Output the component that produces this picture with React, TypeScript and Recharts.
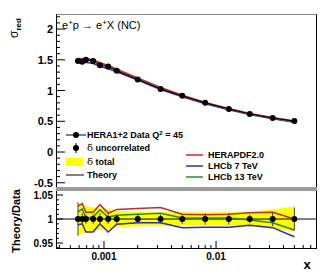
import React from "react";
import { ComposedChart, Line, Area, XAxis, YAxis, ErrorBar, ReferenceLine } from "recharts";

// HERA1+2 NC e+p, Q^2 = 45
const xValues = [0.000586, 0.00064, 0.00069, 0.0008, 0.00092, 0.00109, 0.0013, 0.002, 0.0032, 0.005, 0.008, 0.013, 0.02, 0.032, 0.05];
const sigmaRed = [1.48, 1.47, 1.5, 1.48, 1.41, 1.39, 1.32, 1.18, 1.025, 0.915, 0.8, 0.7, 0.62, 0.553, 0.504];

// theory predictions, top panel
const heraTheory = [1.52, 1.517, 1.521, 1.5, 1.452, 1.407, 1.346, 1.206, 1.05, 0.924, 0.807, 0.707, 0.628, 0.561, 0.504];
const lhcb7Theory = [1.462, 1.455, 1.46, 1.44, 1.396, 1.352, 1.305, 1.171, 1.017, 0.899, 0.786, 0.688, 0.612, 0.543, 0.485];
const lhcb13Theory = [1.502, 1.501, 1.503, 1.486, 1.437, 1.396, 1.331, 1.192, 1.038, 0.917, 0.802, 0.701, 0.619, 0.549, 0.492];

// theory / data, lower panel
const heraRatio = [1.027, 1.032, 1.014, 1.014, 1.03, 1.012, 1.02, 1.022, 1.024, 1.01, 1.009, 1.01, 1.013, 1.014, 1.0];
const lhcb7Ratio = [0.988, 0.99, 0.973, 0.973, 0.99, 0.973, 0.989, 0.992, 0.992, 0.982, 0.983, 0.983, 0.987, 0.982, 0.963];
const lhcb13Ratio = [1.015, 1.021, 1.002, 1.004, 1.019, 1.004, 1.008, 1.01, 1.012, 1.002, 1.002, 1.002, 0.998, 0.992, 0.977];

// relative uncertainties
const deltaUncorr = [0.035, 0.012, 0.01, 0.01, 0.012, 0.01, 0.009, 0.009, 0.009, 0.01, 0.012, 0.012, 0.009, 0.015, 0.024];
const deltaTotal = [0.034, 0.03, 0.027, 0.024, 0.023, 0.021, 0.017, 0.015, 0.014, 0.014, 0.014, 0.014, 0.015, 0.02, 0.026];

const xMajor = [0.001, 0.01];
const xMinor = [0.0004, 0.0005, 0.0006, 0.0007, 0.0008, 0.0009, 0.002, 0.003, 0.004, 0.005, 0.006, 0.007, 0.008, 0.009, 0.02, 0.03, 0.04, 0.05, 0.06, 0.07];
const topYMajor = [-0.5, 0, 0.5, 1, 1.5, 2];
const topYMinor = Array.from({ length: 28 }, (_, i) => Math.round((-0.5 + i * 0.1) * 10) / 10);
const lowYMajor = [0.95, 1, 1.05];
const lowYMinor = Array.from({ length: 12 }, (_, i) => Math.round((0.94 + i * 0.01) * 100) / 100);

const RED = "#c42a2a";
const BLUE = "#2a2ac8";
const GREEN = "#2a8a2a";
const FONT = '"Liberation Sans", Arial, Helvetica, sans-serif';

const topRows = xValues.map((x, i) => ({
  x,
  sigma: sigmaRed[i],
  hera: heraTheory[i],
  lhcb7: lhcb7Theory[i],
  lhcb13: lhcb13Theory[i],
}));

const lowRows = xValues.map((x, i) => ({
  x,
  one: 1,
  unc: deltaUncorr[i],
  band: [1 - deltaTotal[i], 1 + deltaTotal[i]],
  hera: heraRatio[i],
  lhcb7: lhcb7Ratio[i],
  lhcb13: lhcb13Ratio[i],
}));

const near = (a: number, b: number) => Math.abs(a - b) < 1e-6 * Math.max(1, Math.abs(b)) + 1e-9;
const isMajor = (v: number, list: number[]) => list.some((m) => Math.abs(v - m) <= Math.abs(m) * 1e-6 + 1e-9);
const fmt = (v: number) => String(Math.round(v * 1000) / 1000);

const xTicks = [...xMajor, ...xMinor].sort((a, b) => a - b);
const topYTicks = topYMinor;
const lowYTicks = lowYMinor;

const TopXTick = (p: any) => {
  const major = isMajor(p.payload.value, xMajor);
  return <line x1={p.x} x2={p.x} y1={p.y} y2={p.y - (major ? 8 : 4)} stroke="#000" />;
};

const LowXTick = (p: any) => {
  const major = isMajor(p.payload.value, xMajor);
  return (
    <g>
      <line x1={p.x} x2={p.x} y1={p.y} y2={p.y - (major ? 7 : 3)} stroke="#000" />
      {major && (
        <text x={p.x} y={p.y + 12} textAnchor="middle" fontSize={10} fontWeight="bold" fontFamily={FONT} fill="#000">
          {String(p.payload.value)}
        </text>
      )}
    </g>
  );
};

const TopYTick = (p: any) => {
  const major = isMajor(p.payload.value, topYMajor);
  return (
    <g>
      <line x1={p.x} x2={p.x + (major ? 9 : 4)} y1={p.y} y2={p.y} stroke="#000" />
      {major && (
        <text x={p.x - 3} y={p.y + 4} textAnchor="end" fontSize={11} fontWeight="bold" fontFamily={FONT} fill="#000">
          {fmt(p.payload.value)}
        </text>
      )}
    </g>
  );
};

const LowYTick = (p: any) => {
  const major = isMajor(p.payload.value, lowYMajor);
  return (
    <g>
      <line x1={p.x} x2={p.x + (major ? 7 : 3)} y1={p.y} y2={p.y} stroke="#000" />
      {major && (
        <text x={p.x - 3} y={p.y + 4} textAnchor="end" fontSize={10} fontWeight="bold" fontFamily={FONT} fill="#000">
          {fmt(p.payload.value)}
        </text>
      )}
    </g>
  );
};

const dataDot = { r: 3, fill: "#000", stroke: "#000", strokeWidth: 0 };

export default function App() {
  return (
    <div style={{ position: "absolute", left: 0, top: 0, width: 332, height: 276, background: "#fff", fontFamily: FONT }}>
      <div style={{ position: "absolute", left: 0, top: 0 }}>
        <ComposedChart width={332} height={192} data={topRows} margin={{ top: 14, right: 16, bottom: 4, left: 0 }}>
          <XAxis dataKey="x" type="number" scale="log" domain={[0.000373, 0.078]} allowDataOverflow ticks={xTicks} interval={0}
            height={0} tickSize={0} tickMargin={0} axisLine={false} tickLine={false} tick={TopXTick} />
          <YAxis type="number" domain={[-0.585, 2.245]} allowDataOverflow ticks={topYTicks} interval={0}
            width={56} tickSize={0} tickMargin={0} axisLine={false} tickLine={false} tick={TopYTick} />
          <Line dataKey="lhcb7" stroke={BLUE} strokeWidth={1.5} dot={false} isAnimationActive={false} />
          <Line dataKey="lhcb13" stroke={GREEN} strokeWidth={1.5} dot={false} isAnimationActive={false} />
          <Line dataKey="hera" stroke={RED} strokeWidth={1.5} dot={false} isAnimationActive={false} />
          <Line dataKey="sigma" stroke="#000" strokeWidth={1} dot={dataDot} isAnimationActive={false} />
        </ComposedChart>
      </div>
      <div style={{ position: "absolute", left: 0, top: 188 }}>
        <ComposedChart width={332} height={88} data={lowRows} margin={{ top: 4, right: 16, bottom: 0, left: 0 }}>
          <XAxis dataKey="x" type="number" scale="log" domain={[0.000373, 0.078]} allowDataOverflow ticks={xTicks} interval={0}
            height={28} tickSize={0} tickMargin={0} axisLine={false} tickLine={false} tick={LowXTick} />
          <YAxis type="number" domain={[0.9396, 1.0563]} allowDataOverflow ticks={lowYTicks} interval={0}
            width={56} tickSize={0} tickMargin={0} axisLine={false} tickLine={false} tick={LowYTick} />
          <Area dataKey="band" fill="#ffff00" fillOpacity={1} stroke="none" isAnimationActive={false} />
          <ReferenceLine y={1} stroke="#000" strokeWidth={1} />
          <Line dataKey="hera" stroke={RED} strokeWidth={1.5} dot={false} isAnimationActive={false} />
          <Line dataKey="lhcb7" stroke={BLUE} strokeWidth={1.5} dot={false} isAnimationActive={false} />
          <Line dataKey="lhcb13" stroke={GREEN} strokeWidth={1.5} dot={false} isAnimationActive={false} />
          <Line dataKey="one" stroke="none" dot={dataDot} isAnimationActive={false}>
            <ErrorBar dataKey="unc" width={0} stroke="#444" strokeWidth={1} direction="y" />
          </Line>
        </ComposedChart>
      </div>

      {/* frames */}
      <div style={{ position: "absolute", left: 56, top: 14, width: 261, height: 174, boxSizing: "border-box",
        borderTop: "1px solid #8a8a8a", borderLeft: "1px solid #000", borderRight: "1px solid #000" }} />
      <div style={{ position: "absolute", left: 56, top: 187, width: 261, height: 4, background: "#9a9a9a" }} />
      <div style={{ position: "absolute", left: 56, top: 191, width: 261, height: 58, boxSizing: "border-box",
        borderLeft: "1px solid #000", borderRight: "1px solid #000", borderBottom: "1px solid #000" }} />

      <svg width={332} height={276} style={{ position: "absolute", left: 0, top: 0 }} fontFamily={FONT}>
        <text x={62} y={29} fontSize={11} fill="#000">
          e<tspan dy={-4} fontSize={8}>+</tspan>
          <tspan dy={4}>p → e</tspan>
          <tspan dy={-4} fontSize={8}>+</tspan>
          <tspan dy={4}>X (NC)</tspan>
        </text>
        <text transform="translate(18,38) rotate(-90)" fontSize={12} fill="#000">
          σ<tspan dy={3} fontSize={8} fontWeight="bold">red</tspan>
        </text>
        <text transform="translate(20,221) rotate(-90)" textAnchor="middle" fontSize={11} fontWeight="bold" fill="#000">
          Theory/Data
        </text>
        <text x={307} y={269} textAnchor="middle" fontSize={13} fontWeight="bold" fill="#000">x</text>

        {/* left legend */}
        <line x1={66} x2={86} y1={135} y2={135} stroke="#000" />
        <circle cx={76} cy={135} r={3} fill="#000" />
        <text x={87} y={138} fontSize={9} fontWeight="bold" fill="#000">
          HERA1+2 Data Q<tspan dy={-3} fontSize={6}>2</tspan><tspan dy={3}> = 45</tspan>
        </text>
        <line x1={76} x2={76} y1={143} y2={153} stroke="#000" />
        <circle cx={76} cy={148} r={3} fill="#000" />
        <text x={87} y={151} fontSize={9} fill="#000">
          <tspan fontFamily="'DejaVu Serif', serif" fontSize={10}>δ</tspan>
          <tspan fontWeight="bold"> uncorrelated</tspan>
        </text>
        <rect x={66} y={158} width={17} height={8} fill="#ffff00" />
        <text x={87} y={165} fontSize={9} fill="#000">
          <tspan fontFamily="'DejaVu Serif', serif" fontSize={10}>δ</tspan>
          <tspan fontWeight="bold"> total</tspan>
        </text>
        <line x1={66} x2={84} y1={175} y2={175} stroke="#000" />
        <text x={87} y={178} fontSize={9} fontWeight="bold" fill="#000">Theory</text>

        {/* right legend */}
        <line x1={186} x2={203} y1={155} y2={155} stroke={RED} strokeWidth={1.5} />
        <text x={208} y={158} fontSize={9} fontWeight="bold" fill="#000">HERAPDF2.0</text>
        <line x1={186} x2={203} y1={166} y2={166} stroke={BLUE} strokeWidth={1.5} />
        <text x={208} y={169} fontSize={9} fontWeight="bold" fill="#000">LHCb 7 TeV</text>
        <line x1={186} x2={203} y1={177} y2={177} stroke={GREEN} strokeWidth={1.5} />
        <text x={208} y={180} fontSize={9} fontWeight="bold" fill="#000">LHCb 13 TeV</text>
      </svg>
    </div>
  );
}
